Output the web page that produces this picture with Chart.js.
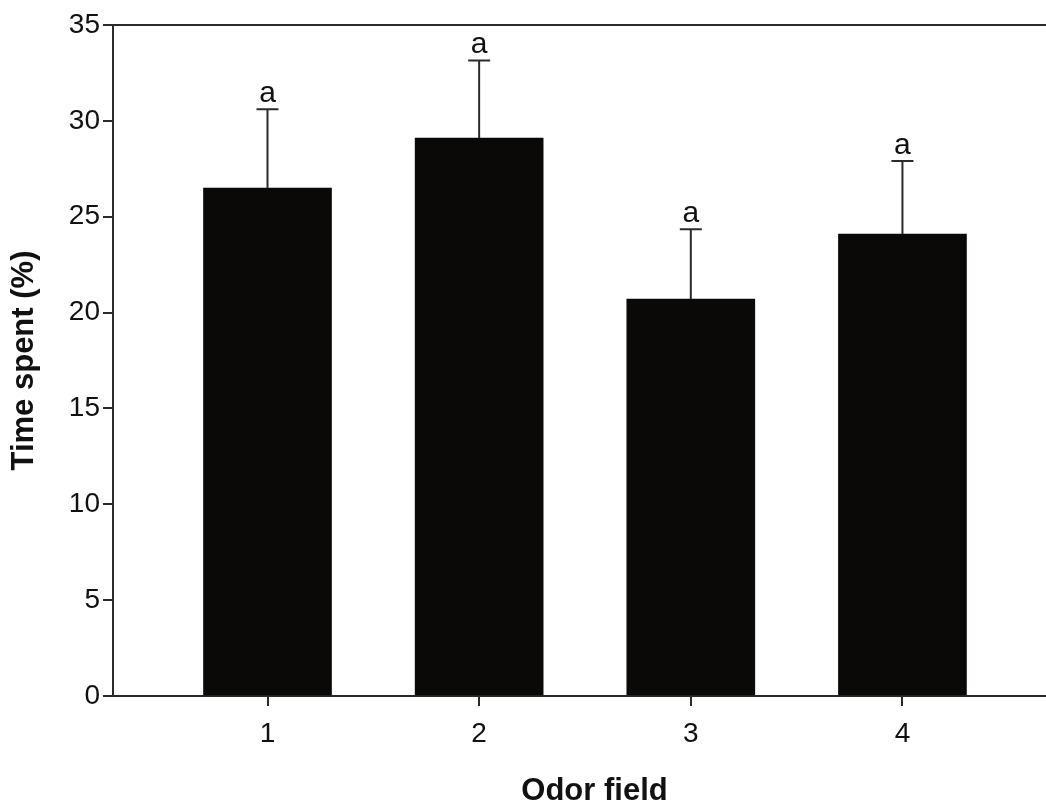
<!DOCTYPE html>
<html>
<head>
<meta charset="utf-8">
<script src="https://cdn.jsdelivr.net/npm/chart.js@4/dist/chart.umd.min.js"></script>
<style>
  html, body { margin: 0; padding: 0; background: #fff; overflow: hidden; }
  #wrap { width: 1076px; height: 807px; }
</style>
</head>
<body>
<div id="wrap"><canvas id="grafico" width="1076" height="807"></canvas></div>
<script>
// Dados
const campos = [1, 2, 3, 4];
const medias = [26.5, 29.1, 20.7, 24.1];
const erros = [4.1, 4.05, 3.65, 3.8];
const letras = ["a", "a", "a", "a"];
const yTicks = [0, 5, 10, 15, 20, 25, 30, 35];

const fonte = "'Liberation Sans', Arial, sans-serif";
const corLinha = "#2b2b2b";

// Barras de erro + letras
const errosPlugin = {
  id: "errosPlugin",
  afterDatasetsDraw(chart) {
    const { ctx, scales: { x, y } } = chart;
    ctx.save();
    ctx.strokeStyle = corLinha;
    ctx.lineWidth = 2;
    campos.forEach((c, i) => {
      const px = x.getPixelForValue(c);
      const y0 = y.getPixelForValue(medias[i]);
      const y1 = y.getPixelForValue(medias[i] + erros[i]);
      ctx.beginPath();
      ctx.moveTo(px, y0);
      ctx.lineTo(px, y1);
      ctx.moveTo(px - 11, y1);
      ctx.lineTo(px + 11, y1);
      ctx.stroke();
      ctx.fillStyle = "#111";
      ctx.font = "30px " + fonte;
      ctx.textAlign = "center";
      ctx.textBaseline = "alphabetic";
      ctx.fillText(letras[i], px, y1 - 7);
    });
    ctx.restore();
  }
};

// Linha superior da moldura
const bordaTopo = {
  id: "bordaTopo",
  afterDraw(chart) {
    const { ctx, chartArea } = chart;
    ctx.save();
    ctx.strokeStyle = corLinha;
    ctx.lineWidth = 2;
    ctx.beginPath();
    ctx.moveTo(chartArea.left, chartArea.top);
    ctx.lineTo(chartArea.right, chartArea.top);
    ctx.stroke();
    ctx.restore();
  }
};

new Chart(document.getElementById("grafico"), {
  type: "bar",
  data: {
    datasets: [{
      data: campos.map((c, i) => ({ x: c, y: medias[i] })),
      backgroundColor: "#0b0907",
      barThickness: 128
    }]
  },
  options: {
    responsive: false,
    animation: false,
    layout: { padding: { top: 25, right: 0, left: 0, bottom: 0 } },
    plugins: { legend: { display: false }, tooltip: { enabled: false } },
    scales: {
      x: {
        type: "linear",
        offset: false,
        min: 0.27,
        max: 4.82,
        afterFit: s => { s.height = 111; },
        afterBuildTicks: s => { s.ticks = campos.map(v => ({ value: v })); },
        grid: { offset: false, drawOnChartArea: false, drawTicks: true, tickLength: 10, color: corLinha, lineWidth: 2 },
        border: { display: true, color: corLinha, width: 2 },
        ticks: { color: "#111", font: { family: fonte, size: 28 }, padding: 11 },
        title: {
          display: true,
          text: "Odor field",
          color: "#111",
          font: { family: fonte, size: 31, weight: "bold" },
          padding: { top: 0, bottom: -3 }
        }
      },
      y: {
        min: 0,
        max: 35,
        afterFit: s => { s.width = 113; },
        afterBuildTicks: s => { s.ticks = yTicks.map(v => ({ value: v })); },
        grid: { drawOnChartArea: false, drawTicks: true, tickLength: 10, color: corLinha, lineWidth: 2 },
        border: { display: true, color: corLinha, width: 2 },
        ticks: { color: "#111", font: { family: fonte, size: 28 }, padding: 3 },
        title: {
          display: true,
          text: "Time spent (%)",
          color: "#111",
          font: { family: fonte, size: 31, weight: "bold" },
          padding: { top: 6, bottom: 0 }
        }
      }
    }
  },
  plugins: [errosPlugin, bordaTopo]
});
</script>
</body>
</html>
